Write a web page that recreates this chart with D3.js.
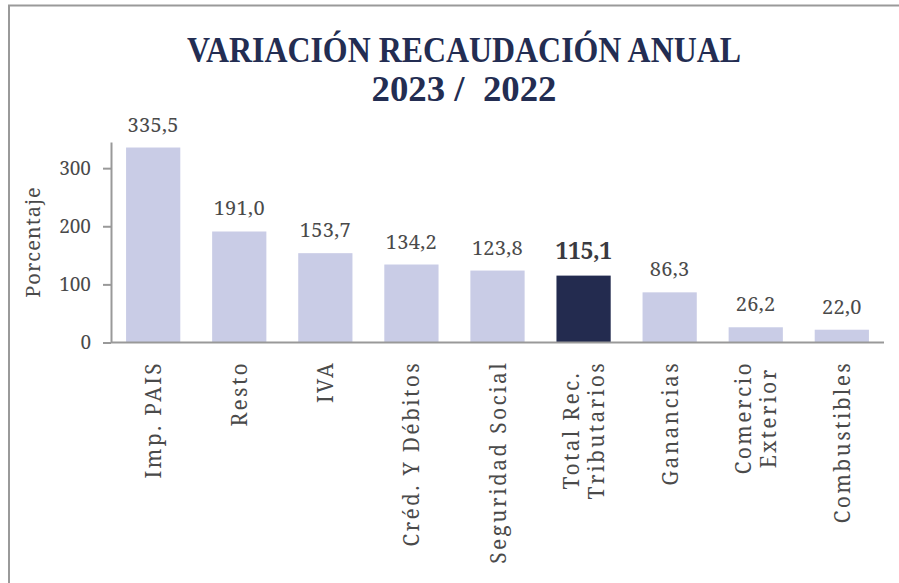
<!DOCTYPE html>
<html>
<head>
<meta charset="utf-8">
<title>Variación recaudación anual</title>
<script src="https://cdn.jsdelivr.net/npm/d3@7"></script>
<style>
    body { margin: 0; background: #fff; }
</style>
</head>
<body>
<script>
    var categories = ["Imp. PAIS", "Resto", "IVA", "Créd. Y Débitos", "Seguridad Social",
                      "Total Rec.\nTributarios", "Ganancias", "Comercio\nExterior", "Combustibles"];
    var values = [335.5, 191.0, 153.7, 134.2, 123.8, 115.1, 86.3, 26.2, 22.0];
    var highlight = "Total Rec.\nTributarios";
    var yTicks = [0, 100, 200, 300];
    var titleLines = ["VARIACIÓN RECAUDACIÓN ANUAL", "2023 /  2022"];
    var titleWidths = [554, 185];

    var font = "'Noto Serif', serif";
    var w = 899, h = 583;
    var svg = d3.select("body").append("svg").attr("width", w).attr("height", h);

    // frame (runs off the right and bottom edge)
    svg.append("path")
        .attr("d", "M9,600 V5.5 H905")
        .attr("fill", "none")
        .attr("stroke", "#9a9a9a")
        .attr("stroke-width", 2);

    // title
    svg.selectAll("text.title")
        .data(titleLines)
        .enter()
        .append("text")
        .attr("class", "title")
        .attr("x", 464)
        .attr("y", function(d, i) { return 62 + i * 39; })
        .attr("text-anchor", "middle")
        .attr("textLength", function(d, i) { return titleWidths[i]; })
        .attr("lengthAdjust", "spacingAndGlyphs")
        .style("white-space", "pre")
        .style("font-family", "'Liberation Serif', serif")
        .style("font-weight", "bold")
        .style("font-size", "35px")
        .attr("fill", "#232d52")
        .text(function(d) { return d; });

    var x = d3.scaleBand().domain(categories).range([111, 884]).paddingInner(0.37).paddingOuter(0.175);
    var y = d3.scaleLinear().domain([0, 345]).range([342.5, 142]);

    // bars
    svg.selectAll("rect.bar")
        .data(values)
        .enter()
        .append("rect")
        .attr("class", "bar")
        .attr("x", function(d, i) { return x(categories[i]); })
        .attr("y", function(d) { return y(d); })
        .attr("width", x.bandwidth())
        .attr("height", function(d) { return y(0) - y(d); })
        .attr("fill", function(d, i) { return categories[i] == highlight ? "#232b4f" : "#c9cce6"; });

    // value labels
    svg.selectAll("text.val")
        .data(values)
        .enter()
        .append("text")
        .attr("class", "val")
        .attr("x", function(d, i) { return x(categories[i]) + x.bandwidth() / 2; })
        .attr("y", function(d, i) { return y(d) - (categories[i] == highlight ? 17 : 16); })
        .attr("text-anchor", "middle")
        .style("font-family", font)
        .style("font-size", function(d, i) { return categories[i] == highlight ? "23px" : "20px"; })
        .style("letter-spacing", function(d, i) { return categories[i] == highlight ? "-0.5px" : "0.3px"; })
        .style("font-weight", function(d, i) { return categories[i] == highlight ? "bold" : "normal"; })
        .attr("fill", function(d, i) { return categories[i] == highlight ? "#3a3a40" : "#4a4a4a"; })
        .text(function(d) { return d3.format(".1f")(d).replace(".", ","); });

    // y axis
    var yAxis = svg.append("g")
        .attr("transform", "translate(111,0)")
        .call(d3.axisLeft(y).tickValues(yTicks).tickSize(8).tickSizeOuter(0).tickPadding(12));
    yAxis.select(".domain").attr("stroke", "#999").attr("stroke-width", 2);
    yAxis.selectAll(".tick line").attr("stroke", "#999").attr("stroke-width", 2);
    yAxis.selectAll(".tick text")
        .style("font-family", font)
        .style("font-size", "19px")
        .attr("fill", "#4a4a4a");

    svg.append("text")
        .attr("transform", "translate(40,242) rotate(-90)")
        .attr("text-anchor", "middle")
        .style("font-family", font)
        .style("font-size", "20px")
        .style("letter-spacing", "1px")
        .attr("fill", "#4a4a4a")
        .text("Porcentaje");

    // x axis baseline
    svg.append("line")
        .attr("x1", 111).attr("x2", 884)
        .attr("y1", y(0)).attr("y2", y(0))
        .attr("stroke", "#999")
        .attr("stroke-width", 2);

    // category labels, rotated, multi-line ones centred on each other
    categories.forEach(function(c) {
        var lines = c.split("\n");
        var cx = x(c) + x.bandwidth() / 2;
        var g = svg.append("g").attr("transform", "translate(" + cx + ",361) rotate(-90)");
        var texts = lines.map(function(l, j) {
            return g.append("text")
                .attr("y", (j - (lines.length - 1) / 2) * 25 + 8)
                .style("font-family", font)
                .style("font-size", "21px")
                .style("letter-spacing", "2.3px")
                .attr("fill", "#4a4a4a")
                .text(l);
        });
        var maxLen = d3.max(texts, function(t) { return t.node().getComputedTextLength(); });
        texts.forEach(function(t) {
            t.attr("x", -maxLen / 2).attr("text-anchor", "middle");
        });
    });
</script>
</body>
</html>
